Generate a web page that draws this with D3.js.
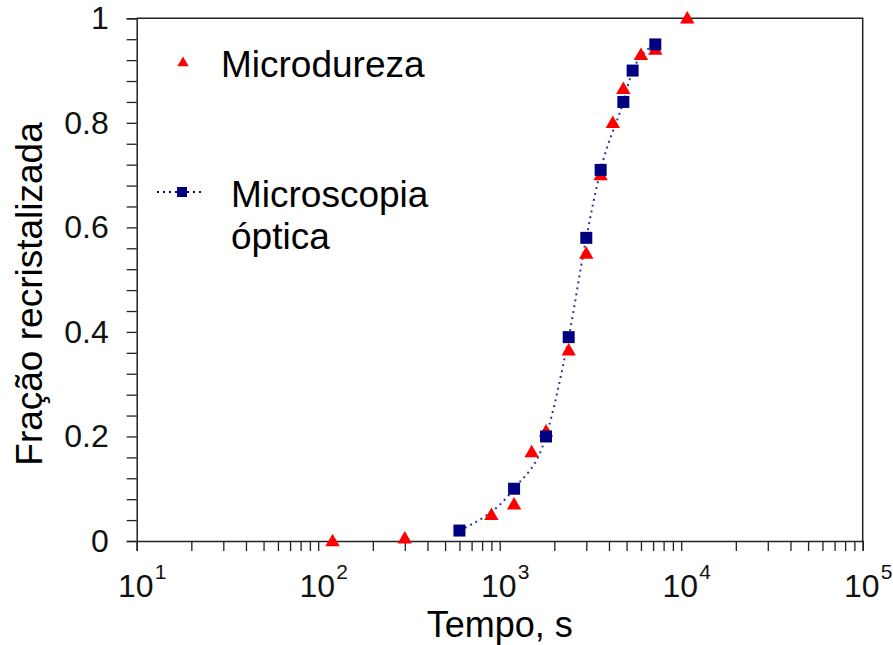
<!DOCTYPE html>
<html>
<head>
<meta charset="utf-8">
<script src="https://cdn.jsdelivr.net/npm/d3@7"></script>
<style>
	body { margin: 0; background: #fff; }
	text { font-family: "Liberation Sans", Arial, sans-serif; }
</style>
</head>
<body>
<div id="chart-area"></div>
<script>

// data
let microTime = [120, 300, 900, 1200, 1500, 1800, 2400, 3000, 3600, 4200, 4800, 6000, 7200, 10800];
let microFrac = [0.0, 0.005, 0.05, 0.07, 0.17, 0.21, 0.365, 0.55, 0.70, 0.80, 0.865, 0.93, 0.94, 1.0];

let opticTime = [600, 1200, 1800, 2400, 3000, 3600, 4800, 5400, 7200];
let opticFrac = [0.02, 0.10, 0.20, 0.39, 0.58, 0.71, 0.84, 0.90, 0.95];

let xDecades = [1, 2, 3, 4, 5];
let yLabels = [0, 0.2, 0.4, 0.6, 0.8, 1];

let microData = microTime.map((t, i) => ({t: t, f: microFrac[i]}));
let opticData = opticTime.map((t, i) => ({t: t, f: opticFrac[i]}));

// margins
let margin = {top: 18.3, right: 30.3, bottom: 104, left: 136.7};
let width = 893 - margin.left - margin.right;
let height = 645 - margin.top - margin.bottom;

let svg = d3.select("#chart-area").append("svg")
		.attr("width", 893)
		.attr("height", 645)
	.append("g")
		.attr("transform", "translate(" + margin.left + "," + margin.top + ")");

// Scales
let x = d3.scaleLog()
	.domain([10, 100000])
	.range([0, width]);

let y = d3.scaleLinear()
	.domain([0, 1])
	.range([height, 0]);

let axisColor = "#222";

// frame (top and right)
svg.append("path")
	.attr("d", "M0,0H" + width + "V" + height)
	.attr("fill", "none")
	.attr("stroke", axisColor)
	.attr("stroke-width", 1.5);

// Axes
let xAxis = d3.axisBottom(x)
	.tickValues(x.ticks())
	.tickSize(10)
	.tickFormat("");

let yAxis = d3.axisLeft(y)
	.tickValues(d3.range(0, 26).map(i => i * 0.04))
	.tickSize(10)
	.tickFormat("");

let gx = svg.append("g")
	.attr("class", "axis x-axis")
	.attr("transform", "translate(0," + height + ")")
	.call(xAxis);

let gy = svg.append("g")
	.attr("class", "axis y-axis")
	.call(yAxis);

[gx, gy].forEach(g => {
	g.select(".domain").attr("stroke", axisColor).attr("stroke-width", 1.5);
	g.selectAll(".tick line").attr("stroke", axisColor).attr("stroke-width", 1.3);
});

// x tick labels: 10 with superscript exponent
let xLab = svg.append("g").attr("class", "x-labels");
xDecades.forEach(p => {
	xLab.append("text")
		.attr("x", x(Math.pow(10, p)) - 1)
		.attr("y", height + 56)
		.attr("text-anchor", "middle")
		.attr("font-size", 32)
		.attr("fill", "#111")
		.text("10");
	xLab.append("text")
		.attr("x", x(Math.pow(10, p)) + 18)
		.attr("y", height + 38)
		.attr("font-size", 21)
		.attr("fill", "#111")
		.text(p);
});

// y tick labels
svg.append("g").selectAll("text")
	.data(yLabels)
	.enter()
	.append("text")
	.attr("x", -28)
	.attr("y", d => y(d) + 11)
	.attr("text-anchor", "end")
	.attr("font-size", 32)
	.attr("fill", "#111")
	.text(d => d3.format("~g")(d));

// axis titles
svg.append("text")
	.attr("x", x(1000))
	.attr("y", height + 96)
	.attr("text-anchor", "middle")
	.attr("font-size", 36)
	.attr("fill", "#000")
	.text("Tempo, s");

svg.append("text")
	.attr("transform", "translate(" + (42 - margin.left) + "," + (294 - margin.top) + ") rotate(-90)")
	.attr("text-anchor", "middle")
	.attr("font-size", 37)
	.attr("fill", "#000")
	.text("Fração recristalizada");

// dotted smooth line for optical microscopy
let line = d3.line()
	.x(d => x(d.t))
	.y(d => y(d.f))
	.curve(d3.curveMonotoneX);

svg.append("path")
	.datum(opticData)
	.attr("d", line)
	.attr("fill", "none")
	.attr("stroke", "#000080")
	.attr("stroke-opacity", 0.8)
	.attr("stroke-width", 2)
	.attr("stroke-dasharray", "2,4");

// triangles (microhardness)
let tri = d3.symbol().type(d3.symbolTriangle).size(90);

svg.selectAll(".tri")
	.data(microData)
	.enter()
	.append("path")
	.attr("class", "tri")
	.attr("d", tri)
	.attr("transform", d => "translate(" + x(d.t) + "," + (y(d.f) + 1) + ")")
	.attr("fill", "#ff0000");

// squares (optical microscopy)
svg.selectAll(".sq")
	.data(opticData)
	.enter()
	.append("rect")
	.attr("class", "sq")
	.attr("x", d => x(d.t) - 6)
	.attr("y", d => y(d.f) - 6)
	.attr("width", 12)
	.attr("height", 12)
	.attr("fill", "#000080");

// Legend
let legend = svg.append("g")
	.attr("transform", "translate(" + (-margin.left) + "," + (-margin.top) + ")");

legend.append("path")
	.attr("d", d3.symbol().type(d3.symbolTriangle).size(55))
	.attr("transform", "translate(183,63)")
	.attr("fill", "#ff0000");

legend.append("text")
	.attr("x", 221)
	.attr("y", 77)
	.attr("font-size", 37)
	.text("Microdureza");

legend.append("line")
	.attr("x1", 157).attr("x2", 205)
	.attr("y1", 192).attr("y2", 192)
	.attr("stroke", "#000080")
	.attr("stroke-width", 2)
	.attr("stroke-dasharray", "2,4");

legend.append("rect")
	.attr("x", 177).attr("y", 187)
	.attr("width", 10).attr("height", 10)
	.attr("fill", "#000080");

legend.append("text")
	.attr("x", 231)
	.attr("y", 207)
	.attr("font-size", 37)
	.text("Microscopia");

legend.append("text")
	.attr("x", 231)
	.attr("y", 249)
	.attr("font-size", 37)
	.text("óptica");

</script>
</body>
</html>
